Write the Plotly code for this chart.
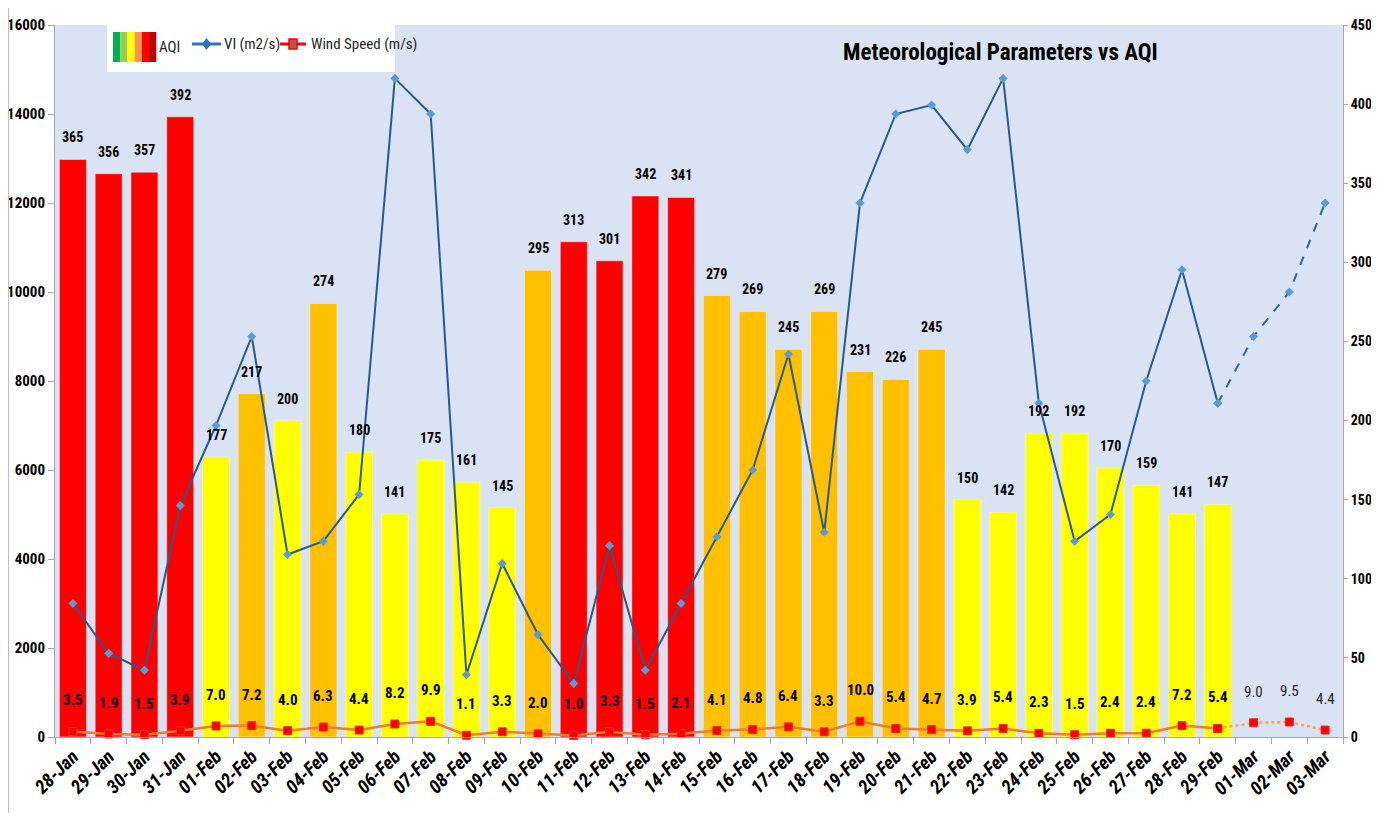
import plotly.graph_objects as go

dates = ["28-Jan", "29-Jan", "30-Jan", "31-Jan",
         "01-Feb", "02-Feb", "03-Feb", "04-Feb", "05-Feb", "06-Feb", "07-Feb", "08-Feb",
         "09-Feb", "10-Feb", "11-Feb", "12-Feb", "13-Feb", "14-Feb", "15-Feb", "16-Feb",
         "17-Feb", "18-Feb", "19-Feb", "20-Feb", "21-Feb", "22-Feb", "23-Feb", "24-Feb",
         "25-Feb", "26-Feb", "27-Feb", "28-Feb", "29-Feb", "01-Mar", "02-Mar", "03-Mar"]

aqi = [365, 356, 357, 392, 177, 217, 200, 274, 180, 141, 175, 161, 145, 295, 313, 301,
       342, 341, 279, 269, 245, 269, 231, 226, 245, 150, 142, 192, 192, 170, 159, 141, 147]

wind = [3.5, 1.9, 1.5, 3.9, 7.0, 7.2, 4.0, 6.3, 4.4, 8.2, 9.9, 1.1, 3.3, 2.0, 1.0, 3.3,
        1.5, 2.1, 4.1, 4.8, 6.4, 3.3, 10.0, 5.4, 4.7, 3.9, 5.4, 2.3, 1.5, 2.4, 2.4, 7.2, 5.4]
wind_forecast = [9.0, 9.5, 4.4]

vi = [3000, 1880, 1500, 5200, 7000, 9000, 4100, 4400, 5450, 14800, 14000, 1400,
      3900, 2300, 1200, 4300, 1500, 3000, 4500, 6000, 8600, 4600, 12000, 14000,
      14200, 13200, 14800, 7500, 4400, 5000, 8000, 10500, 7500]
vi_forecast = [9000, 10000, 12000]

n_obs = len(aqi)
obs_dates = dates[:n_obs]
fc_dates = dates[n_obs - 1:]


def aqi_color(v):
    if v > 300:
        return "#FF0000"
    if v > 200:
        return "#FFC000"
    if v > 100:
        return "#FFFF00"
    return "#92D050"


FONT = "Liberation Sans Narrow, Arial Narrow, Roboto Condensed, Liberation Sans, sans-serif"

fig = go.Figure()

fig.add_trace(go.Bar(
    x=obs_dates, y=aqi, yaxis="y",
    marker=dict(color=[aqi_color(v) for v in aqi], line=dict(color="#F2F2F2", width=0.5)),
    showlegend=False, name="AQI",
))

fig.add_trace(go.Scatter(
    x=obs_dates, y=wind, yaxis="y", mode="lines+markers",
    line=dict(color="#ED7D31", width=2.5),
    marker=dict(symbol="square", size=8, color="#FF0000", line=dict(color="#E03020", width=1)),
    showlegend=False, name="Wind Speed (m/s)", cliponaxis=False,
))
fig.add_trace(go.Scatter(
    x=fc_dates, y=[wind[-1]] + wind_forecast, yaxis="y", mode="lines+markers",
    line=dict(color="#F4A460", width=2.5, dash="dot"),
    marker=dict(symbol="square", size=8, color="#FF0000", line=dict(color="#E03020", width=1)),
    showlegend=False, cliponaxis=False,
))

fig.add_trace(go.Scatter(
    x=obs_dates, y=vi, yaxis="y2", mode="lines+markers",
    line=dict(color="#275A8A", width=2),
    marker=dict(symbol="diamond", size=7, color="#5B9BD5"),
    showlegend=False, name="VI (m2/s)", cliponaxis=False,
))
fig.add_trace(go.Scatter(
    x=fc_dates, y=[vi[-1]] + vi_forecast, yaxis="y2", mode="lines+markers",
    line=dict(color="#2E6699", width=2, dash="dash"),
    marker=dict(symbol="diamond", size=7, color="#5B9BD5"),
    showlegend=False, cliponaxis=False,
))

annotations = []
for d, a in zip(obs_dates, aqi):
    annotations.append(dict(x=d, y=a, xref="x", yref="y", text=str(a), showarrow=False,
                            yshift=22, yanchor="middle", xanchor="center",
                            font=dict(family=FONT, size=14, color="#000000", weight="bold")))
for d, w in zip(obs_dates, wind):
    annotations.append(dict(x=d, y=w, xref="x", yref="y", text=f"{w:.1f}", showarrow=False,
                            yshift=31, yanchor="middle", xanchor="center",
                            font=dict(family=FONT, size=15, color="#000000", weight="bold")))
for d, w in zip(dates[n_obs:], wind_forecast):
    annotations.append(dict(x=d, y=w, xref="x", yref="y", text=f"{w:.1f}", showarrow=False,
                            yshift=31, yanchor="middle", xanchor="center",
                            font=dict(family=FONT, size=15, color="#262626")))


# screen-pixel helpers (plot area spans x 55..1343, y 25..737 on screen)
def px_x(p):
    return (p - 55) / 1288.0


def px_y(p):
    return (737 - p) / 712.0


# title
annotations.append(dict(x=px_x(1000), y=px_y(53), xref="paper", yref="paper",
                        xanchor="center", yanchor="middle",
                        text="Meteorological Parameters vs AQI", showarrow=False,
                        font=dict(family=FONT, size=23, color="#000000", weight="bold")))

shapes = []
shapes.append(dict(type="rect", xref="paper", yref="paper", x0=px_x(107), x1=px_x(395),
                   y0=px_y(72), y1=px_y(25), fillcolor="white", line=dict(width=0), layer="above"))
legend_cols = ["#00B050", "#92D050", "#FFFF00", "#F79646", "#FF0000", "#C00000"]
for i, c in enumerate(legend_cols):
    shapes.append(dict(type="rect", xref="paper", yref="paper",
                       x0=px_x(113 + i * 7.2), x1=px_x(113 + (i + 1) * 7.2),
                       y0=px_y(62), y1=px_y(32), fillcolor=c, line=dict(width=0), layer="above"))
shapes.append(dict(type="line", xref="paper", yref="paper", x0=px_x(192), x1=px_x(221),
                   y0=px_y(44), y1=px_y(44), line=dict(color="#2E75B6", width=3), layer="above"))
shapes.append(dict(type="path", xref="paper", yref="paper", layer="above",
                   path=f"M {px_x(206.5)} {px_y(38)} L {px_x(211)} {px_y(44)} L {px_x(206.5)} {px_y(50)} L {px_x(202)} {px_y(44)} Z",
                   fillcolor="#2E75B6", line=dict(width=0)))
shapes.append(dict(type="line", xref="paper", yref="paper", x0=px_x(280), x1=px_x(306),
                   y0=px_y(44), y1=px_y(44), line=dict(color="#FF0000", width=3), layer="above"))
shapes.append(dict(type="rect", xref="paper", yref="paper", x0=px_x(289), x1=px_x(297),
                   y0=px_y(49), y1=px_y(39), fillcolor="#C0504D", line=dict(color="#FF0000", width=1.5),
                   layer="above"))
# chart-area left border
shapes.append(dict(type="line", xref="paper", yref="paper", x0=px_x(8.5), x1=px_x(8.5),
                   y0=px_y(817), y1=px_y(8), line=dict(color="#BFBFBF", width=1)))

annotations.append(dict(x=px_x(157), y=px_y(47), xref="paper", yref="paper", text="AQI",
                        showarrow=False, xanchor="left", yanchor="middle",
                        font=dict(family=FONT, size=15, color="#262626")))
annotations.append(dict(x=px_x(222), y=px_y(44), xref="paper", yref="paper", text="VI (m2/s)",
                        showarrow=False, xanchor="left", yanchor="middle",
                        font=dict(family=FONT, size=15, color="#262626")))
annotations.append(dict(x=px_x(309), y=px_y(44), xref="paper", yref="paper", text="Wind Speed (m/s)",
                        showarrow=False, xanchor="left", yanchor="middle",
                        font=dict(family=FONT, size=15, color="#262626")))

# page body has an 8px margin, so the figure is sized to fit inside the window
fig.update_layout(
    width=1371, height=805,
    margin=dict(l=47, r=36, t=17, b=76, autoexpand=False),
    paper_bgcolor="white", plot_bgcolor="#DAE3F3",
    bargap=0.245,
    showlegend=False,
    xaxis=dict(type="category", categoryorder="array", categoryarray=dates,
               range=[-0.5, len(dates) - 0.5], automargin=False,
               tickangle=-45, tickson="boundaries", ticks="outside", ticklen=6,
               tickcolor="#A6A6A6", showgrid=False, showline=True, linecolor="#A6A6A6",
               tickfont=dict(family=FONT, size=19, color="#000000", weight="bold", style="italic")),
    yaxis=dict(side="right", range=[0, 450], tickvals=list(range(0, 451, 50)), automargin=False,
               showgrid=False, zeroline=False, showline=True, linecolor="#A6A6A6",
               ticks="outside", ticklen=4, tickcolor="#A6A6A6",
               tickfont=dict(family=FONT, size=14, color="#000000", weight="bold")),
    yaxis2=dict(side="left", overlaying="y", range=[0, 16000], tickvals=list(range(0, 16001, 2000)),
                tickformat="d", automargin=False,
                showgrid=False, zeroline=False, showline=True, linecolor="#A6A6A6",
                ticks="outside", ticklen=6, tickcolor="#A6A6A6",
                tickfont=dict(family=FONT, size=15, color="#000000", weight="bold")),
    annotations=annotations,
    shapes=shapes,
)

fig.write_html("out.html", post_script="document.body.style.overflow='hidden';")
